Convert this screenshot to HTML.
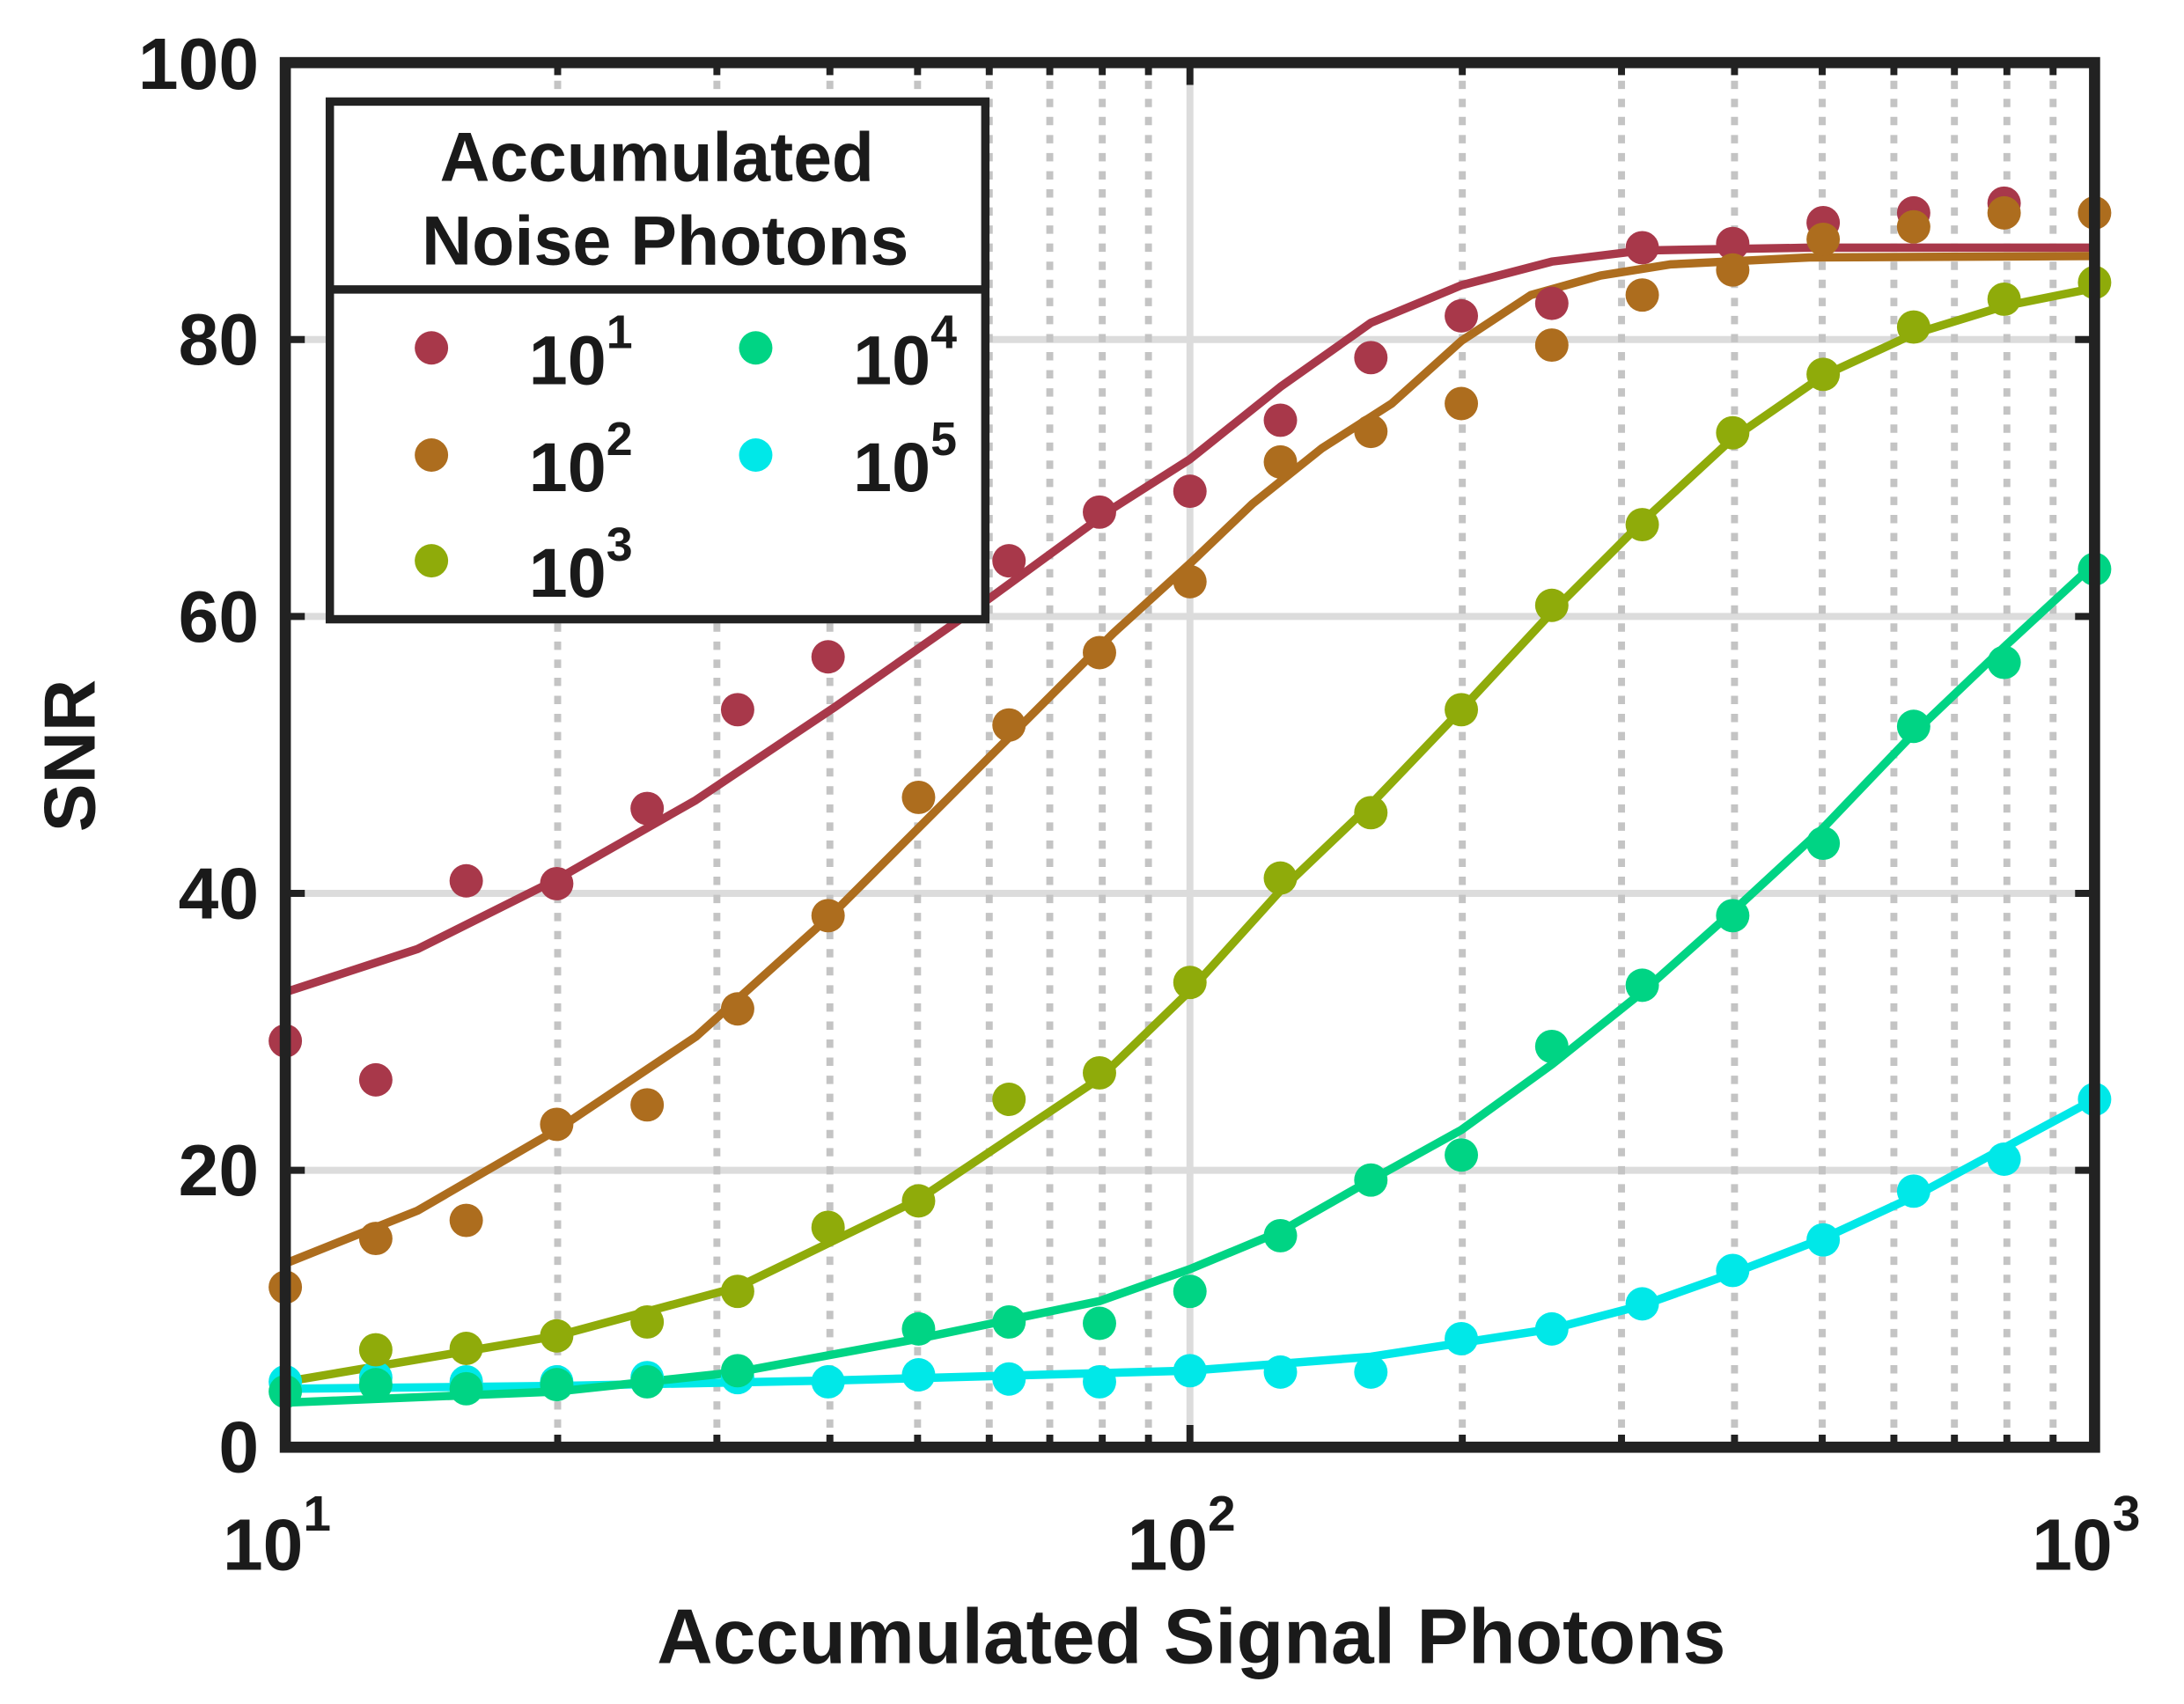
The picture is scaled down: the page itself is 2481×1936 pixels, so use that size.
<!DOCTYPE html>
<html><head><meta charset="utf-8"><style>
html,body{margin:0;padding:0;background:#fff}
svg{display:block}
text{font-family:"Liberation Sans",Arial,sans-serif;fill:#1a1a1a}
</style></head><body>
<svg width="2481" height="1936" viewBox="0 0 2481 1936" xmlns="http://www.w3.org/2000/svg">
<g transform="scale(1.581)">
<rect x="0" y="0" width="1570" height="1225" fill="#fff"/>
<!-- major grid -->
<g stroke="#dcdcdc" stroke-width="5">
<line x1="205" y1="244" x2="1505" y2="244"/>
<line x1="205" y1="443" x2="1505" y2="443"/>
<line x1="205" y1="642" x2="1505" y2="642"/>
<line x1="205" y1="841" x2="1505" y2="841"/>
<line x1="855" y1="45" x2="855" y2="1040"/>
</g>
<!-- minor grid -->
<g stroke="#c4c4c4" stroke-width="5" stroke-dasharray="6,7">
<line x1="400.7" y1="45" x2="400.7" y2="1040"/>
<line x1="515.1" y1="45" x2="515.1" y2="1040"/>
<line x1="596.3" y1="45" x2="596.3" y2="1040"/>
<line x1="659.3" y1="45" x2="659.3" y2="1040"/>
<line x1="710.8" y1="45" x2="710.8" y2="1040"/>
<line x1="754.3" y1="45" x2="754.3" y2="1040"/>
<line x1="792.0" y1="45" x2="792.0" y2="1040"/>
<line x1="825.2" y1="45" x2="825.2" y2="1040"/>
<line x1="1050.7" y1="45" x2="1050.7" y2="1040"/>
<line x1="1165.1" y1="45" x2="1165.1" y2="1040"/>
<line x1="1246.3" y1="45" x2="1246.3" y2="1040"/>
<line x1="1309.3" y1="45" x2="1309.3" y2="1040"/>
<line x1="1360.8" y1="45" x2="1360.8" y2="1040"/>
<line x1="1404.3" y1="45" x2="1404.3" y2="1040"/>
<line x1="1442.0" y1="45" x2="1442.0" y2="1040"/>
<line x1="1475.2" y1="45" x2="1475.2" y2="1040"/>
</g>
<!-- ticks -->
<g stroke="#222" stroke-width="5">
<path d="M400.7,1040v-9M515.1,1040v-9M596.3,1040v-9M659.3,1040v-9M710.8,1040v-9M754.3,1040v-9M792,1040v-9M825.2,1040v-9M855,1040v-16M1050.7,1040v-9M1165.1,1040v-9M1246.3,1040v-9M1309.3,1040v-9M1360.8,1040v-9M1404.3,1040v-9M1442,1040v-9M1475.2,1040v-9"/>
<path d="M400.7,45v9M515.1,45v9M596.3,45v9M659.3,45v9M710.8,45v9M754.3,45v9M792,45v9M825.2,45v9M855,45v16M1050.7,45v9M1165.1,45v9M1246.3,45v9M1309.3,45v9M1360.8,45v9M1404.3,45v9M1442,45v9M1475.2,45v9"/>
<path d="M205,244h14M205,443h14M205,642h14M205,841h14M1505,244h-14M1505,443h-14M1505,642h-14M1505,841h-14"/>
</g>
<!-- curves -->
<g fill="none" stroke-width="6" stroke-linejoin="round" stroke-linecap="round">
<polyline stroke="#00e8e8" points="205,998 400,996 600,992 855,985 985,975 1050,965 1115,955 1180,938 1245,915 1310,890 1375,860 1440,825 1505,790"/>
<polyline stroke="#00d484" points="205,1008 400,1000 530,986 660,962 790,935 855,912 920,885 985,848 1050,812 1115,765 1180,713 1245,655 1310,595 1375,527 1440,465 1505,405"/>
<polyline stroke="#8fab0a" points="205,993 400,960 530,925 660,862 790,775 855,712 920,640 985,578 1050,510 1115,440 1180,375 1245,315 1310,270 1375,240 1440,220 1505,207"/>
<polyline stroke="#ad6d1e" points="205,908 300,870 400,812 500,745 600,655 700,555 800,455 855,405 900,362 950,322 1000,290 1050,245 1100,212 1150,198 1200,190 1300,185 1505,184"/>
<polyline stroke="#a8384a" points="205,713 300,682 400,632 500,575 600,508 700,438 800,365 855,330 920,278 985,232 1050,205 1115,188 1180,180 1300,178 1505,178"/>
</g>
<!-- markers -->
<g fill="#00e8e8">
<circle cx="205" cy="993" r="12"/><circle cx="270" cy="990" r="12"/><circle cx="335" cy="993" r="12"/><circle cx="400" cy="993" r="12"/><circle cx="465" cy="990" r="12"/><circle cx="530" cy="990" r="12"/><circle cx="595" cy="993" r="12"/><circle cx="660" cy="988" r="12"/><circle cx="725" cy="991" r="12"/><circle cx="790" cy="993" r="12"/><circle cx="855" cy="985" r="12"/><circle cx="920" cy="986" r="12"/><circle cx="985" cy="986" r="12"/><circle cx="1050" cy="962" r="12"/><circle cx="1115" cy="955" r="12"/><circle cx="1180" cy="937" r="12"/><circle cx="1245" cy="913" r="12"/><circle cx="1310" cy="891" r="12"/><circle cx="1375" cy="856" r="12"/><circle cx="1440" cy="833" r="12"/><circle cx="1505" cy="790" r="12"/>
</g>
<g fill="#00d484">
<circle cx="205" cy="1000" r="12"/><circle cx="270" cy="995" r="12"/><circle cx="335" cy="998" r="12"/><circle cx="400" cy="995" r="12"/><circle cx="465" cy="993" r="12"/><circle cx="530" cy="985" r="12"/><circle cx="660" cy="955" r="12"/><circle cx="725" cy="950" r="12"/><circle cx="790" cy="951" r="12"/><circle cx="855" cy="928" r="12"/><circle cx="920" cy="888" r="12"/><circle cx="985" cy="848" r="12"/><circle cx="1050" cy="830" r="12"/><circle cx="1115" cy="752" r="12"/><circle cx="1180" cy="708" r="12"/><circle cx="1245" cy="658" r="12"/><circle cx="1310" cy="606" r="12"/><circle cx="1375" cy="522" r="12"/><circle cx="1440" cy="476" r="12"/><circle cx="1505" cy="409" r="12"/>
</g>
<g fill="#8fab0a">
<circle cx="270" cy="970" r="12"/><circle cx="335" cy="969" r="12"/><circle cx="400" cy="960" r="12"/><circle cx="465" cy="950" r="12"/><circle cx="530" cy="928" r="12"/><circle cx="595" cy="882" r="12"/><circle cx="660" cy="863" r="12"/><circle cx="725" cy="790" r="12"/><circle cx="790" cy="771" r="12"/><circle cx="855" cy="706" r="12"/><circle cx="920" cy="631" r="12"/><circle cx="985" cy="584" r="12"/><circle cx="1050" cy="510" r="12"/><circle cx="1115" cy="435" r="12"/><circle cx="1180" cy="377" r="12"/><circle cx="1245" cy="311" r="12"/><circle cx="1310" cy="269" r="12"/><circle cx="1375" cy="235" r="12"/><circle cx="1440" cy="215" r="12"/><circle cx="1505" cy="203" r="12"/>
</g>
<g fill="#a8384a">
<circle cx="205" cy="748" r="12"/><circle cx="270" cy="776" r="12"/><circle cx="335" cy="633" r="12"/><circle cx="400" cy="635" r="12"/><circle cx="465" cy="581" r="12"/><circle cx="530" cy="510" r="12"/><circle cx="595" cy="472" r="12"/><circle cx="660" cy="430" r="12"/><circle cx="725" cy="403" r="12"/><circle cx="790" cy="368" r="12"/><circle cx="855" cy="353" r="12"/><circle cx="920" cy="302" r="12"/><circle cx="985" cy="257" r="12"/><circle cx="1050" cy="227" r="12"/><circle cx="1115" cy="218" r="12"/><circle cx="1180" cy="178" r="12"/><circle cx="1245" cy="175" r="12"/><circle cx="1310" cy="160" r="12"/><circle cx="1375" cy="153" r="12"/><circle cx="1440" cy="146" r="12"/>
</g>
<g fill="#ad6d1e">
<circle cx="205" cy="925" r="12"/><circle cx="270" cy="890" r="12"/><circle cx="335" cy="877" r="12"/><circle cx="400" cy="808" r="12"/><circle cx="465" cy="794" r="12"/><circle cx="530" cy="725" r="12"/><circle cx="595" cy="658" r="12"/><circle cx="660" cy="573" r="12"/><circle cx="725" cy="521" r="12"/><circle cx="790" cy="469" r="12"/><circle cx="855" cy="418" r="12"/><circle cx="920" cy="332" r="12"/><circle cx="985" cy="310" r="12"/><circle cx="1050" cy="290" r="12"/><circle cx="1115" cy="248" r="12"/><circle cx="1180" cy="212" r="12"/><circle cx="1245" cy="194" r="12"/><circle cx="1310" cy="172" r="12"/><circle cx="1375" cy="163" r="12"/><circle cx="1440" cy="153" r="12"/><circle cx="1505" cy="153" r="12"/>
</g>
<!-- axes box -->
<rect x="205" y="45" width="1300" height="995" fill="none" stroke="#222" stroke-width="8"/>
<!-- legend -->
<rect x="237" y="73" width="471" height="372" fill="#fff" stroke="#222" stroke-width="6"/>
<line x1="237" y1="208" x2="708" y2="208" stroke="#222" stroke-width="6"/>
<text x="472" y="130" font-size="50" font-weight="bold" text-anchor="middle" textLength="312" lengthAdjust="spacingAndGlyphs">Accumulated</text>
<text x="478" y="190" font-size="50" font-weight="bold" text-anchor="middle" textLength="350" lengthAdjust="spacingAndGlyphs">Noise Photons</text>
<circle cx="310" cy="250" r="12" fill="#a8384a"/>
<circle cx="310" cy="327" r="12" fill="#ad6d1e"/>
<circle cx="310" cy="403" r="12" fill="#8fab0a"/>
<circle cx="543" cy="250" r="12" fill="#00d484"/>
<circle cx="543" cy="327" r="12" fill="#00e8e8"/>
<g font-size="50" font-weight="bold">
<text x="380" y="276">10<tspan dy="-26" font-size="34">1</tspan></text>
<text x="380" y="353">10<tspan dy="-26" font-size="34">2</tspan></text>
<text x="380" y="429">10<tspan dy="-26" font-size="34">3</tspan></text>
<text x="613" y="276">10<tspan dy="-26" font-size="34">4</tspan></text>
<text x="613" y="353">10<tspan dy="-26" font-size="34">5</tspan></text>
</g>
<!-- tick labels -->
<g font-size="52" font-weight="bold" text-anchor="end">
<text x="186" y="64">100</text>
<text x="186" y="262">80</text>
<text x="186" y="461">60</text>
<text x="186" y="660">40</text>
<text x="186" y="859">20</text>
<text x="186" y="1058">0</text>
</g>
<g font-size="52" font-weight="bold">
<text x="160" y="1128">10<tspan dy="-28" font-size="36">1</tspan></text>
<text x="810" y="1128">10<tspan dy="-28" font-size="36">2</tspan></text>
<text x="1460" y="1128">10<tspan dy="-28" font-size="36">3</tspan></text>
</g>
<text x="856" y="1195" font-size="56" font-weight="bold" text-anchor="middle" textLength="768" lengthAdjust="spacingAndGlyphs">Accumulated Signal Photons</text>
<text transform="translate(68,543) rotate(-90)" font-size="52" font-weight="bold" text-anchor="middle">SNR</text>
</g>
</svg>
</body></html>
